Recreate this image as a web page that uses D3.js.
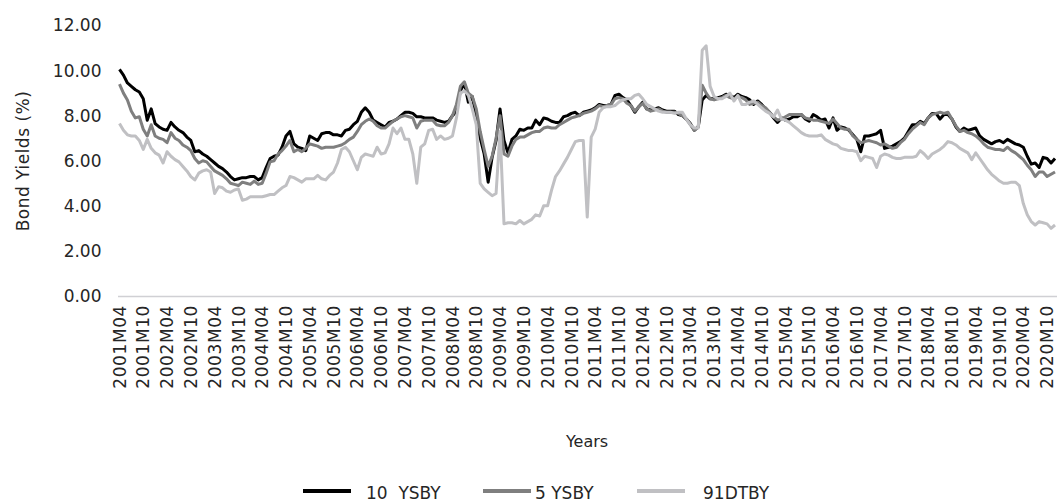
<!DOCTYPE html>
<html><head><meta charset="utf-8">
<script src="https://cdn.jsdelivr.net/npm/d3@7"></script>
<style>
body{margin:0;background:#fff}
svg{display:block}
text{font-family:"DejaVu Sans",sans-serif;fill:#262626}
</style>
</head><body>
<svg id="chart" width="1057" height="502"></svg>
<script>
// ---- categories (monthly, 2001M04 .. 2020M12) ----
const startYear = 2001, startMonth = 4, monthCount = 237;
const categories = [];
for (let k = 0; k < monthCount; k++) {
  const m = (startMonth - 1 + k) % 12 + 1;
  const yr = startYear + Math.floor((startMonth - 1 + k) / 12);
  categories.push(yr + "M" + String(m).padStart(2, "0"));
}

const tickLabels = ["2001M04","2001M10","2002M04","2002M10","2003M04","2003M10","2004M04","2004M10",
  "2005M04","2005M10","2006M04","2006M10","2007M04","2007M10","2008M04","2008M10","2009M04","2009M10",
  "2010M04","2010M10","2011M04","2011M10","2012M04","2012M10","2013M04","2013M10","2014M04","2014M10",
  "2015M04","2015M10","2016M04","2016M10","2017M04","2017M10","2018M04","2018M10","2019M04","2019M10",
  "2020M04","2020M10"];

const yTicks = [0, 2, 4, 6, 8, 10, 12];

const tenYear = [
10.05,9.8,9.45,9.3,9.15,9.05,8.75,7.8,8.3,7.65,
7.5,7.4,7.35,7.7,7.5,7.35,7.25,7.05,6.9,6.4,
6.45,6.3,6.2,6.05,5.9,5.75,5.65,5.5,5.3,5.15,
5.2,5.25,5.25,5.3,5.3,5.15,5.25,5.7,6.1,6.2,
6.25,6.6,7.1,7.3,6.75,6.6,6.55,6.45,7.1,7.0,
6.9,7.2,7.25,7.25,7.15,7.15,7.1,7.35,7.4,7.6,
7.75,8.15,8.35,8.15,7.8,7.7,7.6,7.5,7.7,7.75,
7.85,8.0,8.15,8.15,8.1,7.95,7.95,7.9,7.9,7.9,
7.8,7.75,7.7,7.75,8.0,8.2,9.1,9.45,8.6,8.85,
7.9,7.0,6.3,5.05,6.15,6.9,8.3,6.9,6.35,6.95,
7.1,7.4,7.35,7.45,7.45,7.8,7.6,7.9,7.85,7.75,
7.7,7.7,7.95,8.0,8.1,8.15,8.0,8.15,8.2,8.25,
8.35,8.5,8.45,8.45,8.5,8.9,8.95,8.8,8.7,8.45,
8.15,8.4,8.6,8.3,8.25,8.3,8.35,8.25,8.2,8.2,
8.2,8.05,8.0,7.85,7.65,7.35,7.5,8.7,8.9,8.75,
8.75,8.8,8.85,8.95,8.9,8.8,8.95,8.85,8.8,8.7,
8.5,8.65,8.5,8.3,8.15,7.9,7.7,7.9,7.8,7.85,
7.95,7.95,8.05,7.85,7.75,8.05,7.95,7.8,7.85,7.45,
7.9,7.35,7.5,7.45,7.35,7.15,6.95,6.4,7.1,7.1,
7.15,7.2,7.35,6.55,6.6,6.65,6.75,6.85,7.0,7.3,
7.6,7.6,7.75,7.65,7.9,8.1,8.1,7.85,8.05,8.05,
7.85,7.5,7.3,7.45,7.35,7.4,7.45,7.1,6.95,6.85,
6.75,6.85,6.9,6.8,6.95,6.85,6.75,6.7,6.6,6.2,
5.85,5.9,5.7,6.15,6.1,5.9,6.1];

const fiveYear = [
9.4,9.0,8.7,8.2,7.9,7.95,7.4,7.1,7.6,7.1,
7.0,6.95,6.8,7.25,7.0,6.9,6.7,6.6,6.45,6.1,
5.9,6.0,5.95,5.75,5.55,5.45,5.35,5.2,5.0,4.95,
4.9,5.05,5.0,4.95,5.1,4.95,5.0,5.45,5.95,6.0,
6.3,6.45,6.65,6.9,6.4,6.5,6.4,6.55,6.75,6.7,
6.65,6.55,6.6,6.6,6.6,6.65,6.7,6.8,6.95,7.05,
7.3,7.6,7.75,7.85,7.75,7.55,7.45,7.45,7.6,7.75,
7.85,7.95,8.0,7.95,7.9,7.45,7.75,7.8,7.8,7.8,
7.6,7.55,7.55,7.7,8.0,8.5,9.3,9.5,9.0,8.85,
8.3,7.3,6.5,5.75,6.2,7.0,8.0,6.3,6.2,6.65,
6.95,7.05,7.05,7.15,7.25,7.3,7.3,7.45,7.5,7.45,
7.45,7.6,7.7,7.8,7.9,7.95,8.0,8.1,8.15,8.2,
8.3,8.45,8.4,8.45,8.5,8.75,8.8,8.75,8.55,8.45,
8.2,8.4,8.55,8.3,8.2,8.25,8.3,8.2,8.15,8.15,
8.15,8.1,8.0,7.85,7.6,7.35,7.5,9.35,9.0,8.75,
8.7,8.75,8.8,8.9,8.8,8.75,8.85,8.8,8.7,8.5,
8.55,8.6,8.45,8.35,8.15,7.95,7.8,7.85,7.95,8.05,
8.05,8.05,8.05,7.9,7.85,7.8,7.8,7.75,7.7,7.65,
7.85,7.65,7.45,7.4,7.4,7.1,6.95,6.8,6.85,6.9,
6.85,6.8,6.7,6.75,6.65,6.55,6.6,6.8,6.95,7.2,
7.4,7.55,7.7,7.6,7.9,8.05,8.1,8.15,8.1,8.15,
7.85,7.55,7.3,7.35,7.25,7.2,7.1,6.95,6.75,6.6,
6.55,6.5,6.5,6.45,6.6,6.45,6.35,6.2,6.05,5.8,
5.6,5.3,5.5,5.5,5.3,5.4,5.5];

const tBill91 = [
7.65,7.35,7.15,7.1,7.1,6.9,6.5,6.95,6.55,6.35,
6.25,5.9,6.4,6.2,6.05,5.95,5.75,5.55,5.3,5.15,
5.45,5.55,5.6,5.5,4.55,4.85,4.8,4.65,4.6,4.7,
4.75,4.25,4.3,4.4,4.4,4.4,4.4,4.45,4.5,4.5,
4.65,4.8,4.9,5.3,5.25,5.15,5.05,5.2,5.2,5.2,
5.35,5.2,5.15,5.35,5.5,5.9,6.5,6.6,6.4,6.0,
5.6,6.15,6.3,6.25,6.2,6.6,6.3,6.35,6.75,7.45,
7.2,7.45,6.95,6.95,6.3,5.0,6.6,6.75,7.35,7.4,
6.95,7.1,6.95,7.0,7.1,7.9,9.0,9.1,8.9,8.3,
7.6,5.0,4.75,4.6,4.45,4.55,7.3,3.2,3.25,3.25,
3.2,3.35,3.2,3.3,3.4,3.6,3.55,4.0,4.0,4.7,
5.3,5.55,5.85,6.15,6.5,6.85,6.9,6.9,3.5,7.05,
7.4,8.15,8.35,8.4,8.4,8.45,8.6,8.7,8.75,8.75,
8.9,8.95,8.75,8.5,8.4,8.3,8.2,8.15,8.15,8.15,
8.1,8.15,8.15,7.85,7.6,7.45,7.45,10.9,11.1,9.3,
8.85,8.75,8.75,8.85,9.0,8.65,8.9,8.5,8.5,8.6,
8.65,8.5,8.35,8.2,8.1,7.95,8.25,7.85,7.8,7.7,
7.55,7.4,7.25,7.15,7.1,7.1,7.1,7.15,6.95,6.85,
6.75,6.7,6.55,6.5,6.45,6.45,6.4,6.0,6.2,6.15,
6.1,5.7,6.2,6.3,6.25,6.15,6.1,6.1,6.15,6.15,
6.15,6.2,6.45,6.3,6.1,6.3,6.4,6.5,6.65,6.85,
6.8,6.7,6.55,6.45,6.35,6.05,6.35,6.1,5.85,5.6,
5.4,5.25,5.1,5.0,5.0,5.05,5.05,4.9,4.1,3.6,
3.3,3.15,3.3,3.25,3.2,3.0,3.15];

const seriesNames = ["10  YSBY", "5 YSBY", "91DTBY"];
const seriesColors = ["#000000", "#7f7f7f", "#c0c0c3"];
const seriesValues = [tenYear, fiveYear, tBill91];

// ---- drawing ----
const svg = d3.select("#chart");
const x = d3.scaleBand().domain(categories).range([117.5, 1057]).padding(0);
const y = d3.scaleLinear().domain([0, 12]).range([296, 25.5]);
const cx = c => x(c) + x.bandwidth() / 2;

// y axis
const yAxis = svg.append("g").attr("transform", "translate(117.5,0)")
  .call(d3.axisLeft(y).tickValues(yTicks).tickFormat(d3.format(".2f")).tickSize(0).tickPadding(16));
yAxis.select(".domain").remove();
yAxis.selectAll("text").style("font-size", "17px").style("font-family", '"DejaVu Sans",sans-serif').attr("fill", "#262626");

// x axis
const xAxis = svg.append("g").attr("transform", "translate(0,296)")
  .call(d3.axisBottom(x).tickValues(tickLabels).tickSize(0));
xAxis.select(".domain").attr("stroke", "#d0d0d4").attr("stroke-width", 1.5);
xAxis.selectAll("text")
  .attr("transform", "rotate(-90)")
  .attr("x", -9).attr("y", 0).attr("dy", "0.36em")
  .attr("text-anchor", "end")
  .style("font-size", "17px").style("font-family", '"DejaVu Sans",sans-serif')
  .style("letter-spacing", "0.6px")
  .attr("fill", "#262626");

// lines
const line = d3.line().x((d, i) => cx(categories[i])).y(d => y(d));
seriesValues.forEach((vals, k) => {
  svg.append("path").datum(vals)
    .attr("fill", "none").attr("stroke", seriesColors[k])
    .attr("stroke-width", 3).attr("stroke-linejoin", "round")
    .attr("d", line);
});

// axis titles
svg.append("text").attr("transform", "translate(29,161) rotate(-90)")
  .attr("text-anchor", "middle").style("font-size", "17px").style("letter-spacing", "0.5px")
  .text("Bond Yields (%)");
svg.append("text").attr("x", 587).attr("y", 447)
  .attr("text-anchor", "middle").style("font-size", "16px").text("Years");

// legend
const legendX = [303, 483, 637];
const legendTextX = [366, 535, 703];
seriesNames.forEach((n, k) => {
  svg.append("line").attr("x1", legendX[k]).attr("x2", legendX[k] + 48)
    .attr("y1", 491).attr("y2", 491).attr("stroke", seriesColors[k]).attr("stroke-width", 4);
  svg.append("text").attr("x", legendTextX[k]).attr("y", 498.5)
    .style("font-size", "17px").style("white-space", "pre").text(n);
});
</script>
</body></html>
